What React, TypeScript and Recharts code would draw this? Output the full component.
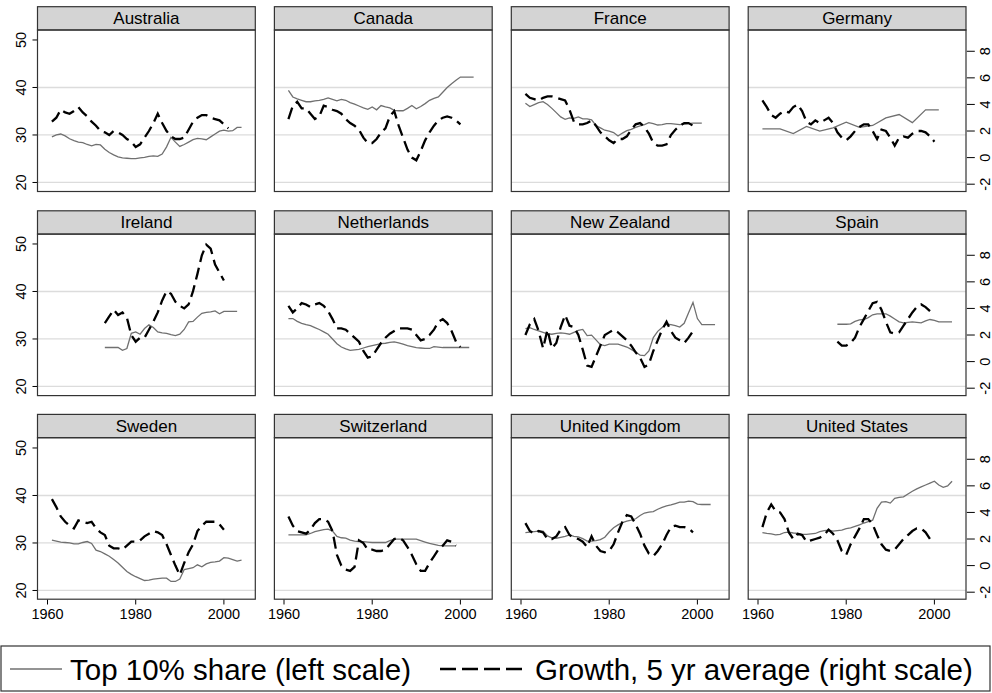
import React from 'react';
import { LineChart, Line, XAxis, YAxis, ReferenceLine } from 'recharts';

// ---------------- data ----------------
const COUNTRIES = [
  'Australia', 'Canada', 'France', 'Germany',
  'Ireland', 'Netherlands', 'New Zealand', 'Spain',
  'Sweden', 'Switzerland', 'United Kingdom', 'United States',
];
const YEAR_TICKS = [1960, 1980, 2000];
const SHARE_TICKS = [20, 30, 40, 50];
const GROWTH_TICKS = [-2, 0, 2, 4, 6, 8];
const GRID_VALUES = [20, 30, 40];
const LEGEND_SHARE = 'Top 10% share (left scale)';
const LEGEND_GROWTH = 'Growth, 5 yr average (right scale)';

// Top 10% share (left scale), yearly from start year
const ausShareStart = 1961;
const ausShare = [29.6, 30.0, 30.2, 29.8, 29.2, 28.8, 28.5, 28.4, 28.0, 27.7, 28.0, 27.9, 27.0, 26.3, 25.8, 25.4, 25.2, 25.1, 25.0, 25.0, 25.2, 25.3, 25.5, 25.6, 25.5, 26.0, 27.5, 29.5, 28.5, 27.6, 28.0, 28.5, 29.0, 29.3, 29.2, 29.0, 29.6, 30.2, 30.8, 31.0, 30.8, 30.9, 31.6, 31.6];
const canShareStart = 1961;
const canShare = [39.4, 38.0, 37.6, 37.3, 37.0, 37.0, 37.2, 37.3, 37.5, 37.8, 37.5, 37.2, 37.5, 37.3, 36.8, 36.5, 36.1, 35.7, 35.4, 35.9, 35.3, 36.2, 35.9, 35.7, 35.2, 35.1, 35.1, 35.6, 36.2, 35.5, 36.0, 36.6, 37.3, 37.7, 38.0, 39.0, 40.0, 40.8, 41.5, 42.2, 42.2, 42.2, 42.2];
const fraShareStart = 1961;
const fraShare = [36.7, 36.0, 36.4, 36.8, 37.0, 36.4, 35.6, 34.7, 33.8, 33.3, 33.6, 33.5, 33.8, 33.4, 33.4, 33.2, 32.0, 31.5, 31.0, 30.8, 30.5, 29.8, 30.4, 30.9, 31.2, 31.6, 31.9, 32.2, 32.6, 32.4, 32.1, 32.2, 32.4, 32.4, 32.3, 32.2, 32.3, 32.4, 32.5, 32.5, 32.5];
const deuShareYears = [1961, 1965, 1968, 1971, 1974, 1977, 1980, 1983, 1986, 1989, 1992, 1995, 1998, 2001];
const deuShare = [31.3, 31.3, 30.3, 31.8, 30.8, 31.5, 32.7, 31.6, 32.0, 33.6, 34.3, 32.6, 35.3, 35.3];
const irlShareStart = 1973;
const irlShare = [28.2, 28.2, 28.2, 28.2, 27.6, 28.0, 31.2, 31.5, 31.0, 32.2, 33.0, 32.4, 31.5, 31.3, 31.2, 30.9, 30.7, 31.0, 32.0, 33.6, 33.7, 34.6, 35.4, 35.6, 35.7, 35.9, 35.3, 35.8, 35.8, 35.8, 35.8];
const nldShareStart = 1961;
const nldShare = [34.3, 34.3, 33.7, 33.3, 33.0, 32.8, 32.4, 32.0, 31.5, 31.0, 30.0, 29.0, 28.3, 27.9, 27.6, 27.7, 27.8, 28.1, 28.4, 28.6, 28.8, 29.0, 29.1, 29.3, 29.4, 29.2, 28.9, 28.6, 28.4, 28.2, 28.1, 28.0, 28.0, 28.4, 28.3, 28.2, 28.2, 28.2, 28.2, 28.2, 28.2, 28.2];
const nzlShareStart = 1961;
const nzlShare = [32.2, 32.4, 32.0, 31.7, 31.4, 31.1, 31.0, 31.2, 31.3, 31.2, 31.0, 31.4, 31.8, 32.0, 30.7, 30.8, 29.8, 28.8, 28.6, 28.9, 28.9, 28.9, 28.6, 28.3, 27.8, 27.2, 26.6, 26.5, 27.5, 30.3, 31.6, 32.4, 33.1, 33.0, 32.8, 32.5, 33.3, 35.5, 37.7, 34.3, 33.0, 33.0, 33.0, 33.0];
const espShareStart = 1978;
const espShare = [33.1, 33.1, 33.1, 33.2, 33.7, 34.0, 34.1, 34.5, 35.1, 35.3, 35.3, 35.3, 34.8, 34.2, 33.6, 33.4, 33.5, 33.6, 33.5, 33.4, 33.8, 34.1, 33.9, 33.6, 33.6, 33.6, 33.6];
const sweShareStart = 1961;
const sweShare = [30.6, 30.4, 30.2, 30.1, 30.0, 29.8, 29.8, 30.1, 30.3, 29.9, 28.5, 28.2, 27.7, 27.2, 26.5, 25.8, 24.9, 24.0, 23.4, 22.9, 22.5, 22.1, 22.2, 22.4, 22.5, 22.6, 22.6, 21.9, 21.9, 22.4, 24.4, 24.6, 24.8, 25.4, 25.0, 25.6, 25.9, 26.0, 26.2, 26.9, 26.8, 26.5, 26.2, 26.4];
const cheShareStart = 1961;
const cheShare = [31.7, 31.7, 31.7, 31.7, 31.7, 32.0, 32.4, 32.6, 32.8, 32.9, 32.5, 31.4, 31.1, 31.0, 30.6, 30.4, 30.3, 30.3, 30.2, 30.1, 30.1, 30.1, 30.1, 30.5, 30.8, 30.8, 30.8, 30.8, 30.8, 30.8, 30.5, 30.2, 29.9, 29.7, 29.5, 29.4, 29.4, 29.4, 29.4];
const gbrShareStart = 1961;
const gbrShare = [32.2, 32.3, 32.4, 32.5, 32.5, 31.5, 31.1, 31.0, 31.2, 31.4, 31.7, 31.4, 31.3, 30.9, 30.4, 30.4, 30.5, 30.7, 31.2, 32.3, 33.2, 33.8, 34.3, 34.6, 34.8, 35.1, 35.8, 36.3, 36.5, 36.6, 37.1, 37.5, 37.8, 38.0, 38.3, 38.6, 38.6, 38.8, 38.7, 38.2, 38.1, 38.1, 38.1];
const usaShareStart = 1961;
const usaShare = [32.2, 32.0, 31.9, 31.7, 31.8, 32.2, 32.3, 32.1, 32.0, 31.8, 31.8, 31.9, 32.0, 32.4, 32.6, 32.7, 32.5, 32.6, 32.7, 33.0, 33.2, 33.5, 33.8, 34.2, 34.5, 34.8, 37.3, 38.6, 38.7, 38.4, 39.4, 39.6, 39.7, 40.3, 40.9, 41.4, 41.8, 42.2, 42.6, 43.0, 42.2, 41.7, 42.0, 43.0];

// Growth, 5 yr average (right scale), yearly from start year
const ausGrowthStart = 1961;
const ausGrowth = [2.7, 3.0, 3.6, 3.4, 3.3, 3.5, 3.8, 3.4, 3.1, 2.7, 2.4, 2.0, 1.9, 1.7, 2.0, 1.9, 1.7, 1.4, 1.2, 0.8, 1.0, 1.5, 2.0, 2.6, 3.3, 2.6, 2.0, 1.6, 1.4, 1.4, 1.5, 2.1, 2.7, 3.0, 3.2, 3.2, 3.0, 2.9, 2.8, 2.5, 2.2];
const canGrowthStart = 1961;
const canGrowth = [2.9, 3.9, 4.2, 3.7, 3.7, 3.3, 2.9, 3.1, 3.9, 3.8, 3.6, 3.5, 3.3, 2.9, 2.6, 2.4, 2.1, 1.5, 1.1, 1.1, 1.4, 1.9, 2.2, 3.1, 3.5, 2.4, 1.5, 0.6, 0.0, -0.2, 0.5, 1.3, 1.9, 2.4, 2.8, 3.0, 3.1, 3.0, 2.8, 2.5];
const fraGrowthStart = 1961;
const fraGrowth = [4.8, 4.5, 4.4, 4.3, 4.5, 4.6, 4.6, 4.5, 4.4, 4.3, 3.6, 2.7, 2.5, 2.5, 2.6, 2.8, 2.4, 1.9, 1.6, 1.3, 1.1, 1.4, 1.4, 1.6, 2.1, 2.5, 2.6, 2.3, 1.8, 1.1, 0.9, 0.9, 1.0, 1.7, 2.1, 2.4, 2.6, 2.6, 2.4];
const deuGrowthStart = 1961;
const deuGrowth = [4.3, 3.8, 3.2, 3.0, 3.3, 3.5, 3.4, 3.8, 4.0, 3.5, 2.7, 2.5, 2.8, 2.6, 2.8, 3.0, 2.6, 1.9, 1.5, 1.3, 1.6, 2.0, 2.3, 2.5, 2.5, 2.0, 1.4, 2.1, 2.0, 1.5, 0.9, 1.5, 1.6, 1.5, 1.8, 2.0, 2.0, 1.9, 1.6, 1.2];
const irlGrowthStart = 1973;
const irlGrowth = [2.9, 3.4, 3.9, 3.5, 3.7, 3.3, 2.0, 1.5, 1.8, 1.8, 2.4, 3.0, 3.7, 4.6, 5.3, 5.1, 4.5, 4.2, 4.0, 4.3, 5.3, 6.6, 8.0, 8.8, 8.5, 7.3, 6.7, 6.1];
const nldGrowthStart = 1961;
const nldGrowth = [4.2, 3.7, 4.0, 4.4, 4.3, 4.1, 4.3, 4.4, 4.2, 3.8, 3.2, 2.5, 2.5, 2.4, 2.1, 1.8, 1.5, 0.8, 0.3, 0.4, 0.9, 1.4, 1.8, 2.1, 2.3, 2.5, 2.5, 2.5, 2.4, 2.0, 1.6, 1.7, 2.0, 2.4, 3.0, 3.2, 2.9, 2.3, 1.5, 1.1];
const nzlGrowthStart = 1961;
const nzlGrowth = [2.0, 2.8, 3.2, 2.3, 1.0, 2.4, 1.0, 1.4, 2.6, 3.5, 2.7, 2.6, 2.0, 0.9, -0.3, -0.4, 0.4, 1.2, 2.0, 2.2, 2.4, 2.2, 1.9, 1.6, 1.2, 0.7, 0.3, -0.4, -0.2, 0.8, 1.6, 2.4, 3.0, 2.3, 1.8, 1.6, 1.4, 1.8, 2.3];
const espGrowthStart = 1978;
const espGrowth = [1.5, 1.2, 1.2, 1.4, 1.8, 2.6, 3.2, 3.8, 4.4, 4.5, 3.9, 3.0, 2.2, 2.1, 2.2, 2.7, 3.2, 3.7, 4.1, 4.3, 4.1, 3.8];
const sweGrowthStart = 1961;
const sweGrowth = [5.0, 4.4, 3.7, 3.3, 3.0, 2.8, 3.4, 3.3, 3.2, 3.3, 2.8, 2.5, 2.3, 1.5, 1.3, 1.3, 1.2, 1.5, 1.8, 1.8, 1.9, 2.2, 2.4, 2.6, 2.5, 2.3, 1.6, 0.8, 0.0, -0.7, 0.2, 1.0, 1.6, 2.6, 3.0, 3.3, 3.3, 3.3, 3.1, 2.7];
const cheGrowthStart = 1961;
const cheGrowth = [3.7, 3.0, 2.6, 2.5, 2.4, 2.7, 3.2, 3.5, 3.5, 3.3, 2.6, 0.8, 0.0, -0.3, -0.4, -0.1, 1.9, 1.7, 1.2, 1.2, 1.1, 1.1, 1.2, 1.6, 2.0, 2.1, 1.9, 1.4, 0.8, 0.1, -0.4, -0.4, 0.2, 0.7, 1.2, 1.5, 1.9, 1.8, 1.5];
const gbrGrowthStart = 1961;
const gbrGrowth = [3.2, 2.6, 2.4, 2.6, 2.5, 2.0, 2.0, 2.2, 2.7, 2.9, 2.3, 2.1, 2.0, 1.8, 1.4, 2.2, 1.5, 1.1, 1.0, 1.1, 1.6, 2.5, 3.3, 3.8, 3.7, 3.1, 2.4, 1.5, 0.9, 0.7, 1.1, 1.6, 2.3, 2.9, 3.0, 2.9, 2.9, 2.8, 2.5];
const usaGrowthStart = 1961;
const usaGrowth = [2.9, 4.0, 4.6, 4.1, 4.0, 3.5, 2.5, 2.0, 2.4, 2.3, 1.8, 1.9, 2.0, 2.1, 2.3, 2.7, 2.4, 1.9, 1.1, 0.8, 1.6, 2.2, 2.8, 3.5, 3.5, 3.1, 2.3, 1.6, 1.2, 1.1, 1.2, 1.6, 2.0, 2.3, 2.6, 2.8, 2.8, 2.5, 2.0];

// ---------------- helpers ----------------
type Pt = { year: number; v: number };
const fromStart = (start: number, vals: number[]): Pt[] => vals.map((v, i) => ({ year: start + i, v }));
const fromYears = (years: number[], vals: number[]): Pt[] => years.map((y, i) => ({ year: y, v: vals[i] }));

const SHARE_SERIES: Pt[][] = [
  fromStart(ausShareStart, ausShare),
  fromStart(canShareStart, canShare),
  fromStart(fraShareStart, fraShare),
  fromYears(deuShareYears, deuShare),
  fromStart(irlShareStart, irlShare),
  fromStart(nldShareStart, nldShare),
  fromStart(nzlShareStart, nzlShare),
  fromStart(espShareStart, espShare),
  fromStart(sweShareStart, sweShare),
  fromStart(cheShareStart, cheShare),
  fromStart(gbrShareStart, gbrShare),
  fromStart(usaShareStart, usaShare),
];
const GROWTH_SERIES: Pt[][] = [
  fromStart(ausGrowthStart, ausGrowth),
  fromStart(canGrowthStart, canGrowth),
  fromStart(fraGrowthStart, fraGrowth),
  fromStart(deuGrowthStart, deuGrowth),
  fromStart(irlGrowthStart, irlGrowth),
  fromStart(nldGrowthStart, nldGrowth),
  fromStart(nzlGrowthStart, nzlGrowth),
  fromStart(espGrowthStart, espGrowth),
  fromStart(sweGrowthStart, sweGrowth),
  fromStart(cheGrowthStart, cheGrowth),
  fromStart(gbrGrowthStart, gbrGrowth),
  fromStart(usaGrowthStart, usaGrowth),
];

// ---------------- layout ----------------
const FONT = '"Liberation Sans", Arial, Helvetica, sans-serif';
const COL_LEFT = [37.5, 274.4, 511.3, 748.2];
const ROW_TOP = [30, 234.1, 437.7];
const PW = 217.8;
const PH = 161.5;
const HEADER_H = 23.3;
const RIGHT_W = 992 - (COL_LEFT[3] + PW);
const BOTTOM_H = 45;
const EXT = 16;
const X_DOMAIN: [number, number] = [1957.73, 2007.12];
const L_DOMAIN: [number, number] = [18.1, 52.1];
const R_DOMAIN: [number, number] = [-2.55, 9.6];
const TICK_FONT = 14.5;

const LeftTick = (props: any) => {
  const { y, payload } = props;
  const lx = 20.7;
  return (
    <g>
      <line x1={COL_LEFT[0] - 5} x2={COL_LEFT[0]} y1={y} y2={y} stroke="#000" strokeWidth={1} />
      <text x={lx} y={y} transform={`rotate(-90 ${lx} ${y})`} textAnchor="middle" dominantBaseline="central"
        fontSize={TICK_FONT} fontFamily={FONT} fill="#000">{payload.value}</text>
    </g>
  );
};

const makeRightTick = (plotLeft: number) => (props: any) => {
  const { y, payload } = props;
  const px = plotLeft + PW;
  const lx = px + 18.8;
  return (
    <g>
      <line x1={px + 1} x2={px + 9} y1={y} y2={y} stroke="#000" strokeWidth={1} />
      <text x={lx} y={y} transform={`rotate(-90 ${lx} ${y})`} textAnchor="middle" dominantBaseline="central"
        fontSize={TICK_FONT} fontFamily={FONT} fill="#000">{payload.value}</text>
    </g>
  );
};

const BottomTick = (props: any) => {
  const { x, payload } = props;
  return (
    <g>
      <line x1={x} x2={x} y1={PH} y2={PH + 5} stroke="#000" strokeWidth={1} />
      <text x={x} y={PH + 15} textAnchor="middle" dominantBaseline="central"
        fontSize={TICK_FONT} fontFamily={FONT} fill="#000">{payload.value}</text>
    </g>
  );
};

const Panel = ({ idx }: { idx: number }) => {
  const r = Math.floor(idx / 4);
  const c = idx % 4;
  const leftW = c === 0 ? COL_LEFT[0] : 0;
  const extL = c === 0 ? 0 : EXT;
  const rightW = c === 3 ? RIGHT_W : 0;
  const extR = c === 3 ? 0 : EXT;
  const bottomH = r === 2 ? BOTTOM_H : 0;
  const width = extL + leftW + PW + rightW + extR;
  const height = PH + bottomH;
  const plotLeft = extL + leftW;
  return (
    <div style={{ position: 'absolute', left: COL_LEFT[c] - plotLeft, top: ROW_TOP[r], width, height }}>
      <LineChart width={width} height={height} margin={{ top: 0, right: extR, bottom: 0, left: extL }}>
        <XAxis type="number" dataKey="year" domain={X_DOMAIN} ticks={YEAR_TICKS} allowDataOverflow
          hide={r !== 2} height={BOTTOM_H} axisLine={false} tickLine={false} tick={BottomTick} interval={0} />
        <YAxis yAxisId="left" type="number" orientation="left" domain={L_DOMAIN} ticks={SHARE_TICKS} allowDataOverflow
          hide={c !== 0} width={leftW || 1} axisLine={false} tickLine={false} tick={LeftTick} interval={0} />
        <YAxis yAxisId="right" type="number" orientation="right" domain={R_DOMAIN} ticks={GROWTH_TICKS} allowDataOverflow
          hide={c !== 3} width={rightW || 1} axisLine={false} tickLine={false} tick={makeRightTick(plotLeft)} interval={0} />
        {GRID_VALUES.map((g) => (
          <ReferenceLine key={g} yAxisId="left" y={g} stroke="#dcdcdc" strokeWidth={1.3} />
        ))}
        <Line yAxisId="left" data={SHARE_SERIES[idx]} dataKey="v" type="linear" stroke="#707070" strokeWidth={1.3}
          dot={false} activeDot={false} isAnimationActive={false} />
        <Line yAxisId="right" data={GROWTH_SERIES[idx]} dataKey="v" type="linear" stroke="#000" strokeWidth={2.3}
          strokeDasharray="12 6" dot={false} activeDot={false} isAnimationActive={false} />
      </LineChart>
    </div>
  );
};

const Overlay = () => (
  <svg width={992} height={693} style={{ position: 'absolute', left: 0, top: 0, pointerEvents: 'none' }}>
    {COUNTRIES.map((name, idx) => {
      const r = Math.floor(idx / 4);
      const c = idx % 4;
      const x = COL_LEFT[c];
      const y = ROW_TOP[r];
      return (
        <g key={name}>
          <rect x={x} y={y - HEADER_H} width={PW} height={HEADER_H} fill="#d4d4d4" stroke="#333" strokeWidth={1.2} />
          <text x={x + PW / 2} y={y - HEADER_H / 2 + 0.5} textAnchor="middle" dominantBaseline="central"
            fontSize={17} fontFamily={FONT} fill="#000">{name}</text>
          <rect x={x} y={y} width={PW} height={PH} fill="none" stroke="#333" strokeWidth={1.2} />
        </g>
      );
    })}
    <rect x={1} y={646} width={989} height={45} fill="none" stroke="#333" strokeWidth={1.2} />
    <line x1={10} x2={62} y1={669} y2={669} stroke="#707070" strokeWidth={1.5} />
    <text x={70} y={669} dominantBaseline="central" fontSize={29.5} fontFamily={FONT} fill="#000">{LEGEND_SHARE}</text>
    <line x1={440} x2={527} y1={669} y2={669} stroke="#000" strokeWidth={2.5} strokeDasharray="16 6" />
    <text x={535} y={669} dominantBaseline="central" fontSize={29.5} fontFamily={FONT} fill="#000">{LEGEND_GROWTH}</text>
  </svg>
);

export default function App() {
  return (
    <div style={{ position: 'absolute', left: 0, top: 0, width: 992, height: 693, background: '#fff', fontFamily: FONT }}>
      {COUNTRIES.map((_, idx) => (
        <Panel key={idx} idx={idx} />
      ))}
      <Overlay />
    </div>
  );
}
